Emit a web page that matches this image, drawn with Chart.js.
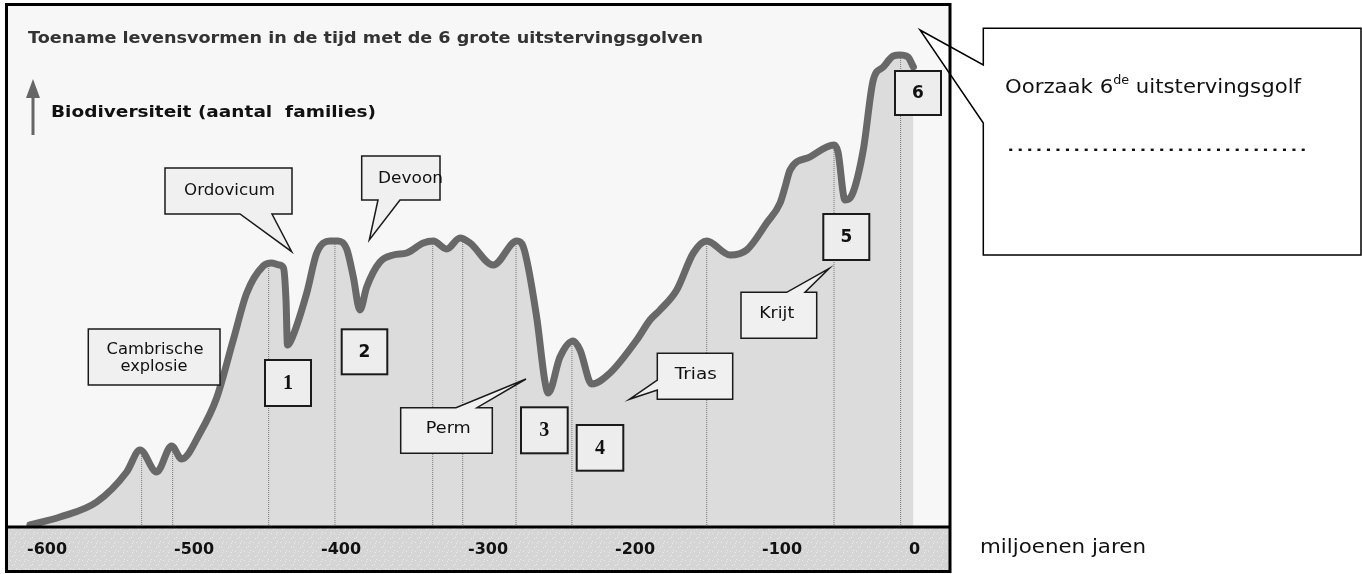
<!DOCTYPE html>
<html lang="nl">
<head>
<meta charset="utf-8">
<title>Biodiversiteit en uitstervingsgolven</title>
<script src="https://cdn.jsdelivr.net/npm/chart.js"></script>
<style>
  html, body { margin: 0; padding: 0; background: #fff; }
  canvas { display: block; }
</style>
</head>
<body>
<canvas id="chartBiodiversiteit" width="1362" height="574"></canvas>
<script>
const years = [
  -598, -577.6, -552.6, -532.2, -523.1, -511.8, -501.6, -494.8, -482.3, -471.0,
  -459.7, -450.5, -439.3, -433.6, -428.5, -425.5, -423.8, -422.8, -419.7, -409.7,
  -402.9, -393.9, -388.4, -382.5, -378.0, -373.5, -368.9, -359.9, -350.8, -341.7,
  -330.4, -323.6, -314.5, -305.4, -298.6, -282.8, -266.8, -262.6, -253.3, -247.6,
  -245.4, -237.4, -228.4, -223.8, -215.8, -203.4, -185.2, -176.2, -169.4, -158.0,
  -146.7, -137.6, -121.7, -110.4, -96.8, -87.7, -84.3, -80.9, -67.4, -51.1,
  -48.3, -43.5, -38.8, -31.1, -24.3, -17.5, -10.7, -6.1, -0.7, 3.0
];
const families = [
  2, 10, 25, 55, 77, 55, 81, 68, 94, 129,
  187, 234, 261, 264, 262, 259, 227, 182, 189, 234,
  274, 286, 286, 278, 250, 217, 240, 265, 272, 274,
  284, 286, 278, 289, 284, 262, 286, 281, 210, 145,
  134, 170, 186, 177, 143, 154, 187, 207, 217, 237,
  274, 286, 272, 277, 304, 324, 340, 357, 370, 382,
  375, 327, 332, 377, 447, 460, 471, 472, 470, 460
];

// verticale stippellijnen (tijdstippen en hoogte tot de curve)
const eventYears = [-522.0, -500.9, -435.6, -390.5, -324.0, -303.6, -267.3, -229.3, -137.6, -51.0, -5.7];
const eventTops = [77, 80, 263, 285, 285, 287, 285, 185, 285, 381, 471];

const tickValues = [-600, -500, -400, -300, -200, -100, 0];
const tickLabels = ['-600', '-500', '-400', '-300', '-200', '-100', '0'];

// schaal: 1.47 px per miljoen jaar
const xMin = -611.56;
const xMax = 28.58;

// tekstballonnen en nummers (layout)
const notes = [
  { x: 165, y: 168, w: 127, h: 46, lines: [{ t: 'Ordovicum', cx: 229.5, by: 195, w: 91 }],
    tail: { side: 'bottom', a: 240, b: 272, tx: 291.7, ty: 251.7 } },
  { x: 361.7, y: 156, w: 78.3, h: 44, lines: [{ t: 'Devoon', cx: 410.5, by: 183, w: 65 }],
    tail: { side: 'bottom', a: 378, b: 400, tx: 369.3, ty: 240 } },
  { x: 88.3, y: 329, w: 131.7, h: 56,
    lines: [{ t: 'Cambrische', cx: 155, by: 353.5, w: 97 }, { t: 'explosie', cx: 154, by: 371, w: 67 }] },
  { x: 400.7, y: 407.7, w: 91.6, h: 45.6, lines: [{ t: 'Perm', cx: 448.3, by: 432.7, w: 45 }],
    tail: { side: 'top', a: 456, b: 477, tx: 526, ty: 379 } },
  { x: 657.3, y: 353.3, w: 75.4, h: 46, lines: [{ t: 'Trias', cx: 695.8, by: 379, w: 42 }],
    tail: { side: 'left', a: 380, b: 390, tx: 629.3, ty: 399.3 } },
  { x: 741, y: 292.3, w: 75.7, h: 46, lines: [{ t: 'Krijt', cx: 776.7, by: 318.3, w: 35 }],
    tail: { side: 'top', a: 786.7, b: 805, tx: 829.3, ty: 268.3 } }
];

const nums = [
  { t: '1', x: 265, y: 360, w: 46, h: 46, serif: true },
  { t: '2', x: 341.7, y: 329.3, w: 45.6, h: 45 },
  { t: '3', x: 521, y: 407.3, w: 46.7, h: 46, serif: true },
  { t: '4', x: 576.7, y: 425, w: 46.6, h: 45.7, serif: true },
  { t: '5', x: 823.3, y: 214, w: 46, h: 46 },
  { t: '6', x: 895, y: 71, w: 46, h: 44 }
];

function fitText(ctx, text, x, y, font, width) {
  ctx.font = font;
  let w = ctx.measureText(text).width;
  ctx.save();
  ctx.translate(x, y);
  ctx.scale(width / w, 1);
  ctx.fillText(text, 0, 0);
  ctx.restore();
}

function callout(ctx, b, fill) {
  let r = b.x + b.w, btm = b.y + b.h, t = b.tail;
  ctx.beginPath();
  ctx.moveTo(b.x, b.y);
  if (t && t.side === 'top') {
    ctx.lineTo(t.a, b.y); ctx.lineTo(t.tx, t.ty); ctx.lineTo(t.b, b.y);
  }
  ctx.lineTo(r, b.y);
  ctx.lineTo(r, btm);
  if (t && t.side === 'bottom') {
    ctx.lineTo(t.b, btm); ctx.lineTo(t.tx, t.ty); ctx.lineTo(t.a, btm);
  }
  ctx.lineTo(b.x, btm);
  if (t && t.side === 'left') {
    ctx.lineTo(b.x, t.b); ctx.lineTo(t.tx, t.ty); ctx.lineTo(b.x, t.a);
  }
  ctx.closePath();
  ctx.fillStyle = fill;
  ctx.fill();
  ctx.stroke();
}

function bandPattern(ctx) {
  let c = document.createElement('canvas');
  c.width = 9; c.height = 9;
  let p = c.getContext('2d');
  p.fillStyle = '#d5d5d5';
  p.fillRect(0, 0, 9, 9);
  p.fillStyle = '#ececec';
  [[1, 2], [5, 6], [7, 1], [3, 7], [6, 3]].forEach(d => p.fillRect(d[0], d[1], 1, 1));
  return ctx.createPattern(c, 'repeat');
}

const backdrop = {
  id: 'backdrop',
  beforeDraw(chart) {
    let ctx = chart.ctx, a = chart.chartArea;
    ctx.save();
    ctx.fillStyle = '#ffffff';
    ctx.fillRect(0, 0, chart.width, chart.height);
    ctx.fillStyle = '#f7f7f7';
    ctx.fillRect(8, 6, a.right - 9, a.bottom - 6);
    ctx.fillStyle = bandPattern(ctx);
    ctx.fillRect(8, a.bottom, a.right - 9, 571 - a.bottom);
    ctx.restore();
  }
};

const decor = {
  id: 'decor',
  afterDraw(chart) {
    let ctx = chart.ctx, a = chart.chartArea;
    ctx.save();
    ctx.textAlign = 'left';
    ctx.textBaseline = 'alphabetic';

    // titel en y-as
    ctx.fillStyle = '#333';
    fitText(ctx, 'Toename levensvormen in de tijd met de 6 grote uitstervingsgolven', 28, 42.5, 'bold 16px "DejaVu Sans"', 675);
    ctx.fillStyle = '#111';
    fitText(ctx, 'Biodiversiteit (aantal  families)', 51, 117, 'bold 15px "DejaVu Sans"', 325);

    ctx.strokeStyle = '#666';
    ctx.lineWidth = 3;
    ctx.beginPath();
    ctx.moveTo(33, 135); ctx.lineTo(33, 95);
    ctx.stroke();
    ctx.fillStyle = '#666';
    ctx.beginPath();
    ctx.moveTo(26, 98); ctx.lineTo(33, 79); ctx.lineTo(40, 98);
    ctx.closePath();
    ctx.fill();

    // rechter ballon
    ctx.strokeStyle = '#000';
    ctx.lineWidth = 1.5;
    callout(ctx, { x: 983.3, y: 28.3, w: 377.7, h: 226.7,
      tail: { side: 'left', a: 65, b: 123, tx: 920, ty: 30 } }, '#ffffff');

    // kader
    ctx.strokeStyle = '#000';
    ctx.lineWidth = 3;
    ctx.strokeRect(6.5, 4.5, a.right - 1 - 6.5, 571.5 - 4.5);
    ctx.beginPath();
    ctx.moveTo(6.5, a.bottom); ctx.lineTo(a.right - 0.5, a.bottom);
    ctx.stroke();

    // ballonnen
    ctx.lineWidth = 1.5;
    ctx.strokeStyle = '#1a1a1a';
    notes.forEach(n => {
      callout(ctx, n, '#f0f0f0');
      ctx.fillStyle = '#111';
      n.lines.forEach(l => fitText(ctx, l.t, l.cx - l.w / 2, l.by, '16px "DejaVu Sans"', l.w));
    });

    ctx.lineWidth = 2;
    nums.forEach(n => {
      ctx.fillStyle = '#ededed';
      ctx.fillRect(n.x, n.y, n.w, n.h);
      ctx.strokeRect(n.x, n.y, n.w, n.h);
      ctx.fillStyle = '#111';
      ctx.textAlign = 'center';
      ctx.textBaseline = 'middle';
      ctx.font = n.serif ? 'bold 20px "Liberation Serif"' : 'bold 17px "DejaVu Sans"';
      ctx.fillText(n.t, n.x + n.w / 2, n.y + n.h / 2 + 1);
    });

    // tekst rechts
    ctx.textAlign = 'left';
    ctx.textBaseline = 'alphabetic';
    ctx.fillStyle = '#111';
    let f1 = '20px "DejaVu Sans"', f2 = '12px "DejaVu Sans"';
    let p1 = 'Oorzaak 6', p2 = 'de', p3 = ' uitstervingsgolf';
    ctx.font = f1; let w1 = ctx.measureText(p1).width, w3 = ctx.measureText(p3).width;
    ctx.font = f2; let w2 = ctx.measureText(p2).width;
    let k = 296 / (w1 + w2 + w3);
    ctx.save();
    ctx.translate(1005, 93);
    ctx.scale(k, 1);
    ctx.font = f1; ctx.fillText(p1, 0, 0);
    ctx.font = f2; ctx.fillText(p2, w1, -9);
    ctx.font = f1; ctx.fillText(p3, w1 + w2, 0);
    ctx.restore();
    fitText(ctx, '................................', 1006, 151, '20px "DejaVu Sans"', 302);
    fitText(ctx, 'miljoenen jaren', 980, 553, '20px "DejaVu Sans"', 166);
    ctx.restore();
  }
};

// verticale lijnen als één dataset met onderbrekingen
let eventData = [];
for (let i = 0; i < eventYears.length; i++) {
  eventData.push({ x: eventYears[i], y: 0 });
  eventData.push({ x: eventYears[i], y: eventTops[i] });
  eventData.push({ x: eventYears[i], y: null });
}

let ctx = document.getElementById('chartBiodiversiteit').getContext('2d');
let chartBiodiversiteit = new Chart(ctx, {
  type: 'line',
  plugins: [backdrop, decor],
  data: {
    datasets: [
      {
        label: 'Uitstervingsgolven',
        data: eventData,
        borderColor: '#777777',
        borderWidth: 1,
        borderDash: [1, 1],
        pointRadius: 0,
        fill: false,
        spanGaps: false,
        tension: 0,
        order: 2
      },
      {
        label: 'Biodiversiteit',
        data: years.map((t, i) => ({ x: t, y: families[i] })),
        borderColor: '#686868',
        backgroundColor: '#dcdcdc',
        borderWidth: 7,
        borderJoinStyle: 'round',
        borderCapStyle: 'round',
        cubicInterpolationMode: 'monotone',
        pointRadius: 0,
        fill: 'origin',
        order: 1
      }
    ]
  },
  options: {
    responsive: false,
    animation: false,
    layout: { padding: { left: 10, right: 411, top: 9, bottom: 2 } },
    scales: {
      x: {
        type: 'linear',
        min: xMin,
        max: xMax,
        grid: { display: false, drawTicks: false },
        border: { display: false },
        afterBuildTicks: (s) => { s.ticks = tickValues.map(v => ({ value: v })); },
        afterFit: (s) => { s.height = 45; },
        ticks: {
          align: 'start',
          padding: 13,
          autoSkip: false,
          maxRotation: 0,
          color: '#111',
          font: { family: 'DejaVu Sans', size: 16, weight: 'bold' },
          callback: (v, i) => tickLabels[i]
        }
      },
      y: { display: false, min: 0, max: 518 }
    },
    plugins: {
      legend: { display: false },
      tooltip: { enabled: false },
      filler: { drawTime: 'beforeDatasetsDraw' }
    }
  }
});
</script>
</body>
</html>
